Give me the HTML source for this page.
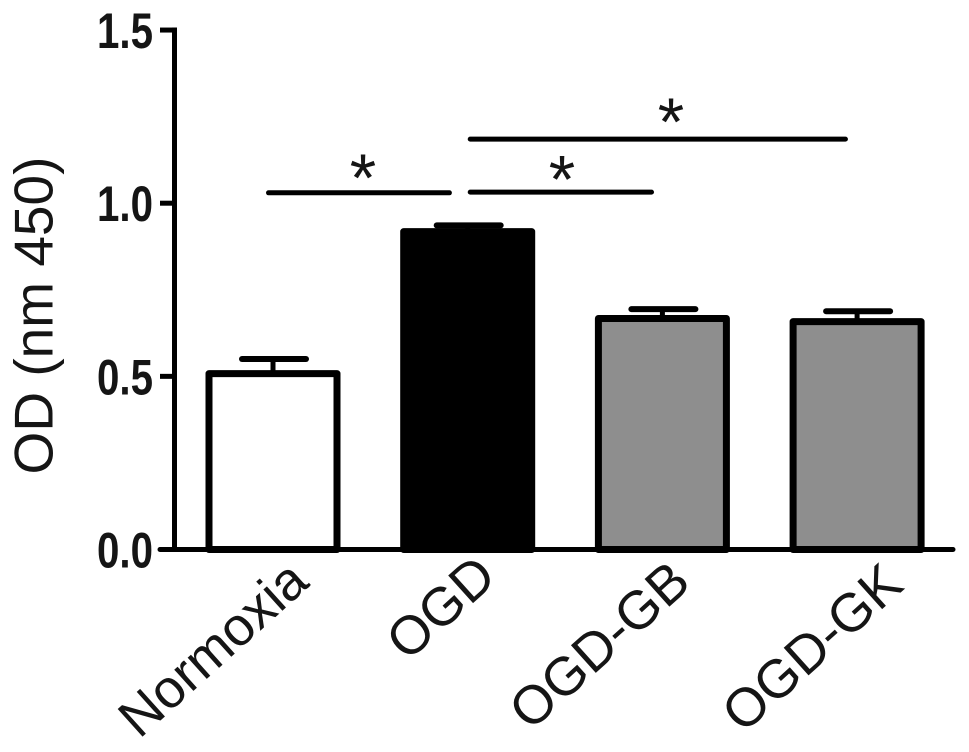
<!DOCTYPE html>
<html>
<head>
<meta charset="utf-8">
<style>
html,body{margin:0;padding:0;background:#fff;}
svg{display:block;}
text{font-family:"Liberation Sans",sans-serif;fill:#151515;}
</style>
</head>
<body>
<svg id="chart" width="969" height="752" viewBox="0 0 969 752" xmlns="http://www.w3.org/2000/svg"></svg>
<script>
const categories = ["Normoxia", "OGD", "OGD-GB", "OGD-GK"];
const values = [0.508, 0.918, 0.667, 0.658];
const errors = [0.042, 0.018, 0.027, 0.030];
const yTicks = ["0.0", "0.5", "1.0", "1.5"];
const bracketStart = [-0.023, 1.013, 1.013];
const bracketEnd = [0.906, 1.944, 2.940];
const bracketLevel = [1.03, 1.032, 1.185];
const starCategory = [0.462, 1.484, 2.044];
const starLevel = [1.105, 1.10, 1.266];

const svg = document.getElementById('chart');
const NS = 'http://www.w3.org/2000/svg';
const y = v => 549.5 - v * 346.3;
const cx = i => 273 + i * 194.7;

function add(tag, attrs, text, parent) {
  const el = document.createElementNS(NS, tag);
  for (const k in attrs) el.setAttribute(k, attrs[k]);
  if (text !== undefined) el.textContent = text;
  (parent || svg).appendChild(el);
  return el;
}

function drawBars() {
  const fills = ["#ffffff", "#000000", "#8e8e8e", "#8e8e8e"];
  const barW = 128;
  const capHalf = 32;
  categories.forEach((c, i) => {
    const g = add('g', {});
    
    
    const top = y(values[i]);
    const errTop = y(values[i] + errors[i]);
    const stem = add('line', {x1: cx(i), x2: cx(i), y1: top, y2: errTop, stroke: '#000', 'stroke-width': 5}, undefined, g);
    
    
    const cap = add('line', {x1: cx(i) - capHalf + 1, x2: cx(i) + capHalf + 1, y1: errTop, y2: errTop, stroke: '#000', 'stroke-width': 6, 'stroke-linecap': 'round'}, undefined, g);
    
    
    const bar = add('rect', {x: cx(i) - barW / 2, y: top, width: barW, height: y(0) - top, fill: fills[i], stroke: '#000', 'stroke-width': 7, 'stroke-linejoin': 'round'}, undefined, g);
    
    
  });
}

function drawXLabels() {
  const labelDx = [38, 31, 30.5, 48.5];
  const labelEndY = [585, 580, 585.5, 588];
  categories.forEach((c, i) => {
    const lx = cx(i) + labelDx[i];
    const ly = labelEndY[i];
    const label = add('text', {x: lx, y: ly, 'font-size': 54, 'text-anchor': 'end', transform: 'rotate(-42 ' + lx + ' ' + ly + ')'}, c);
    
    
  });
}

function drawAxes() {
  const yAxis = add('line', {x1: 174.5, x2: 174.5, y1: 27.5, y2: 552, stroke: '#000', 'stroke-width': 5});
  
  
  const xAxis = add('line', {x1: 160, x2: 953, y1: y(0), y2: y(0), stroke: '#000', 'stroke-width': 5, 'stroke-linecap': 'round'});
  
  

  yTicks.forEach(t => {
    const v = parseFloat(t);
    const tick = add('line', {x1: 160, x2: 175, y1: y(v), y2: y(v), stroke: '#000', 'stroke-width': 5});
    
    
    const lab = add('text', {x: 153, y: y(v) + 18, 'font-size': 50, 'font-weight': 'bold', 'text-anchor': 'end', textLength: 56, lengthAdjust: 'spacingAndGlyphs'}, t);
    
    
  });

  const yTitle = add('text', {x: 0, y: 0, 'font-size': 55, 'text-anchor': 'middle', transform: 'translate(52.5 315.5) rotate(-90)'}, 'OD (nm 450)');
  
  
}

function drawBrackets() {
  bracketLevel.forEach((lvl, i) => {
    const line = add('line', {x1: cx(bracketStart[i]), x2: cx(bracketEnd[i]), y1: y(lvl), y2: y(lvl), stroke: '#000', 'stroke-width': 5, 'stroke-linecap': 'round'});
    
    
    const star = add('text', {x: cx(starCategory[i]), y: y(starLevel[i]) + 34, 'font-size': 68, 'text-anchor': 'middle'}, '*');
    
    
  });
}

drawBars();
drawXLabels();
drawAxes();
drawBrackets();
</script>
</body>
</html>
